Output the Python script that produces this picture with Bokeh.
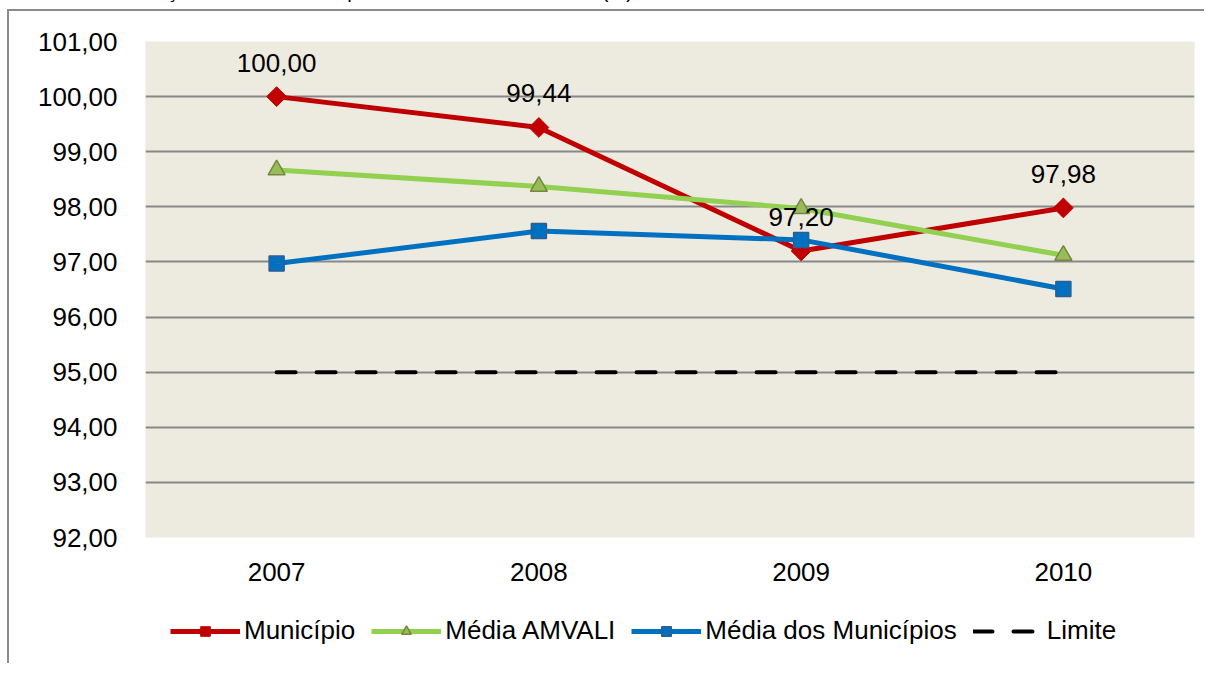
import math
from bokeh.plotting import figure
from bokeh.models import (FactorRange, Range1d, FixedTicker, Legend, LegendItem,
                          ColumnDataSource, Div)
from bokeh.layouts import column
from bokeh.core.properties import value
from bokeh.embed import file_html
from bokeh.resources import INLINE

years = ["2007", "2008", "2009", "2010"]
municipio = [100.00, 99.44, 97.20, 97.98]
media_amvali = [98.67, 98.37, 97.97, 97.12]
media_municipios = [96.97, 97.56, 97.40, 96.51]
limite = [95.00, 95.00, 95.00, 95.00]
y_ticks = [92, 93, 94, 95, 96, 97, 98, 99, 100, 101]
series_names = ["Município", "Média AMVALI", "Média dos Municípios", "Limite"]

title_html = ("<b>Gráfico 10</b> – Evolução Histórica e Comparativa – "
              "95% do FUNDEB (%): 2007 – 2010")

FONT = "Liberation Sans"
FS = "26px"

RED, GREEN, GREEN_M, GREEN_E, BLUE, BLUE_E = ("#C00000", "#92D050", "#9BBB59",
                                              "#71893F", "#0070C0", "#2F5E8E")

p = figure(x_range=FactorRange(*years, range_padding=0),
           y_range=Range1d(92, 101),
           frame_width=1047, frame_height=494,
           output_backend="svg", toolbar_location=None,
           min_border_left=136, min_border_right=12, min_border_top=30,
           min_border_bottom=64)
p.styles = {"border-left": "2px solid #8a8a8a", "border-top": "2px solid #8a8a8a",
            "margin-top": "1px", "margin-left": "7px"}

p.background_fill_color = "#EDEAE0"
p.border_fill_color = "white"
p.outline_line_color = None

# axes
p.yaxis.ticker = FixedTicker(ticks=y_ticks)
p.yaxis.major_label_overrides = {t: f"{t:.2f}".replace(".", ",") for t in y_ticks}
for ax in (p.xaxis[0], p.yaxis[0]):
    ax.axis_line_color = None
    ax.major_tick_line_color = None
    ax.minor_tick_line_color = None
    ax.major_label_text_font = FONT
    ax.major_label_text_font_size = FS
    ax.major_label_text_color = "black"
p.yaxis.major_label_standoff = 22
p.xaxis.major_label_standoff = 19

p.xgrid.grid_line_color = None
p.ygrid.ticker = FixedTicker(ticks=y_ticks)
p.ygrid.grid_line_color = "#888888"
p.ygrid.grid_line_width = 2

# series
p.line(years, limite, line_color="black", line_width=4,
       line_dash="19 21", line_cap="round")
p.line(years, municipio, line_color=RED, line_width=5)
p.scatter(years, municipio, marker="square", angle=math.pi / 4, size=14,
          fill_color=RED, line_color=RED)
p.line(years, media_amvali, line_color=GREEN, line_width=5)
p.scatter(years, media_amvali, marker="triangle", size=17,
          fill_color=GREEN_M, line_color=GREEN_E, line_width=1.5)
p.line(years, media_municipios, line_color=BLUE, line_width=5)
p.scatter(years, media_municipios, marker="square", size=15,
          fill_color=BLUE, line_color=BLUE_E, line_width=1.5)

# data labels for Município
lab_src = ColumnDataSource(dict(x=years, y=municipio,
                                t=[f"{v:.2f}".replace(".", ",") for v in municipio]))
p.text(x="x", y="y", text="t", source=lab_src, text_align="center",
       text_baseline="middle", y_offset=-34, text_font=value(FONT),
       text_font_size=FS, text_color="black")

# ---- legend strip (separate figure, legend proxies hidden outside its range)
lg = figure(width=1195, height=64, output_backend="svg", toolbar_location=None,
            x_range=Range1d(0, 1), y_range=Range1d(0, 1),
            x_axis_type=None, y_axis_type=None, min_border=0)
lg.styles = {"border-left": "2px solid #8a8a8a", "margin-left": "7px"}
lg.grid.visible = False
lg.outline_line_color = None
lg.background_fill_color = "white"
lg.border_fill_color = "white"

hx, hy = [-5], [-5]
r_mun = [lg.line(hx, hy, line_color=RED, line_width=5),
         lg.scatter(hx, hy, marker="square", angle=math.pi / 4, size=11,
                    fill_color=RED, line_color=RED)]
r_amv = [lg.line(hx, hy, line_color=GREEN, line_width=5),
         lg.scatter(hx, hy, marker="triangle", size=14, fill_color=GREEN_M,
                    line_color=GREEN_E, line_width=1.5)]
r_med = [lg.line(hx, hy, line_color=BLUE, line_width=5),
         lg.scatter(hx, hy, marker="square", size=12, fill_color=BLUE,
                    line_color=BLUE_E, line_width=1.5)]
r_lim = [lg.line(hx, hy, line_color="black", line_width=4, line_dash="19 21",
                 line_cap="round")]

legend = Legend(items=[LegendItem(label=n, renderers=r) for n, r in
                       zip(series_names, [r_mun, r_amv, r_med, r_lim])],
                orientation="horizontal", location=(25, 17))
legend.label_text_font = FONT
legend.label_text_font_size = FS
legend.label_text_color = "black"
legend.label_standoff = 4
legend.glyph_width = 70
legend.glyph_height = 24
legend.spacing = 16
legend.border_line_color = None
legend.background_fill_alpha = 0
legend.margin = 0
legend.padding = 0
lg.add_layout(legend, "center")

title = Div(text=title_html, styles={"font-family": FONT, "font-size": "20px",
                                     "white-space": "nowrap", "margin-top": "-20px",
                                     "text-indent": "-8px", "line-height": "23px",
                                     "color": "black"},
            height=23, width=1100)

layout = column(title, p, lg, spacing=0)
open("out.html", "w").write(file_html(layout, INLINE))
